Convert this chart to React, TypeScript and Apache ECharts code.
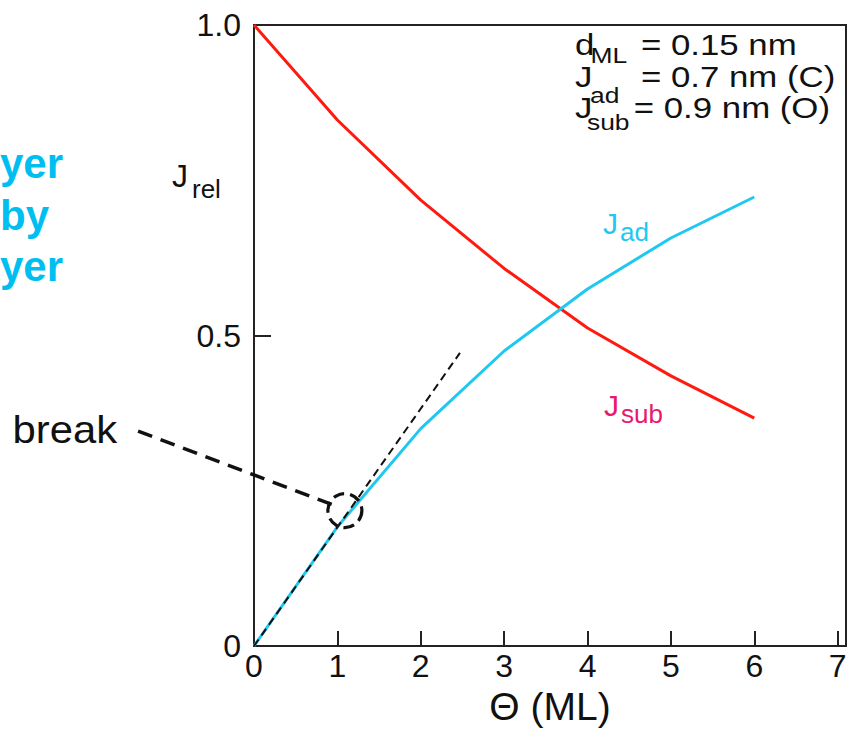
import React, { useEffect, useRef } from "react";
import * as echarts from "echarts";

// Coverage in monolayers
const theta = [0, 1, 2, 3, 4, 5, 6];
// Relative intensities
const jSub = [1.0, 0.847, 0.718, 0.608, 0.512, 0.435, 0.367];
const jAd = [0.0, 0.192, 0.35, 0.475, 0.575, 0.657, 0.723];
// Initial-slope guide (dashed)
const slopeX = [0, 2.47];
const slopeY = [0, 0.472];
// "break" marker and leader line (data coordinates)
const breakPoint = [1.09, 0.218];
const leaderX = [-1.39, 0.972];
const leaderY = [0.346, 0.226];
const xTicks = [0, 1, 2, 3, 4, 5, 6, 7];
const yTicks = ["0", "0.5", "1.0"];

const FONT = "'Liberation Sans', Arial, Helvetica, sans-serif";
const CYAN = "#1ec8f0";
const RED = "#ff1a10";
const PINK = "#e8186a";

function txt(text: string, x: number, y: number, size: number, fill = "#111", extra: any = {}, el: any = {}) {
  return {
    type: "text",
    x,
    y,
    silent: true,
    ...el,
    style: {
      text,
      fontSize: size,
      fontFamily: FONT,
      fill,
      align: "left",
      verticalAlign: "middle",
      ...extra,
    },
  };
}

export default function App() {
  const ref = useRef<HTMLDivElement>(null);
  useEffect(() => {
    if (!ref.current) return;
    const chart = echarts.init(ref.current, undefined, { renderer: "svg" });
    const option: any = {
      animation: false,
      backgroundColor: "#fff",
      grid: {
        left: 254,
        top: 25,
        width: 592,
        height: 622,
        show: true,
        borderColor: "#222",
        borderWidth: 2,
        containLabel: false,
      },
      xAxis: {
        type: "value",
        min: 0,
        max: 7.1,
        interval: 1,
        name: "Θ (ML)",
        nameLocation: "middle",
        nameGap: 41,
        nameTextStyle: { fontSize: 39, fontFamily: FONT, color: "#111" },
        axisLine: { show: true, onZero: false, lineStyle: { color: "#222", width: 2 } },
        axisTick: { show: true, inside: true, length: 15, lineStyle: { color: "#222", width: 2 } },
        axisLabel: {
          fontSize: 32,
          fontFamily: FONT,
          color: "#111",
          margin: 4,
          formatter: (v: number) => (xTicks.indexOf(v) >= 0 ? String(v) : ""),
        },
        splitLine: { show: false },
      },
      yAxis: {
        type: "value",
        min: 0,
        max: 1,
        interval: 0.5,
        axisLine: { show: true, onZero: false, lineStyle: { color: "#222", width: 2 } },
        axisTick: { show: true, inside: true, length: 17, lineStyle: { color: "#222", width: 2 } },
        axisLabel: {
          fontSize: 32,
          fontFamily: FONT,
          color: "#111",
          margin: 13,
          formatter: (v: number) => yTicks[Math.round(v * 2)] ?? "",
        },
        splitLine: { show: false },
      },
      series: [
        {
          type: "line",
          data: theta.map((t, i) => [t, jSub[i]]),
          symbol: "none",
          lineStyle: { color: RED, width: 3 },
          z: 3,
        },
        {
          type: "line",
          data: theta.map((t, i) => [t, jAd[i]]),
          symbol: "none",
          lineStyle: { color: CYAN, width: 3 },
          z: 3,
        },
        {
          type: "line",
          data: slopeX.map((x, i) => [x, slopeY[i]]),
          symbol: "none",
          lineStyle: { color: "#111", width: 2, type: [8, 5] },
          z: 4,
        },
        {
          type: "scatter",
          data: [breakPoint],
          symbol: "circle",
          symbolSize: 34,
          itemStyle: {
            color: "rgba(0,0,0,0)",
            borderColor: "#111",
            borderWidth: 3.2,
            borderType: [11, 6],
            opacity: 1,
          },
          emphasis: { disabled: true },
          z: 5,
        },
      ],
    };
    chart.setOption(option);

    const p0 = chart.convertToPixel({ xAxisIndex: 0, yAxisIndex: 0 }, [leaderX[0], leaderY[0]]) as number[];
    const p1 = chart.convertToPixel({ xAxisIndex: 0, yAxisIndex: 0 }, [leaderX[1], leaderY[1]]) as number[];

    const AX = 575; // left of the parameter box text
    const SX = 1.2; // horizontal stretch of the parameter box text

    chart.setOption({
      graphic: [
        {
          type: "line",
          silent: true,
          z: 10,
          shape: { x1: p0[0], y1: p0[1], x2: p1[0], y2: p1[1] },
          style: { stroke: "#111", lineWidth: 3.5, lineDash: [15, 9] },
        },
        // cut-off caption on the left
        txt("yer", 63, 163, 42, "#00bff0", { align: "right", fontWeight: "bold" }),
        txt("by", 49, 215, 42, "#00bff0", { align: "right", fontWeight: "bold" }),
        txt("yer", 63, 266, 42, "#00bff0", { align: "right", fontWeight: "bold" }),
        // y axis name
        txt("J", 172, 176, 32),
        txt("rel", 192, 189, 26),
        // break label
        txt("break", 14, 430, 38, "#111", {}, { scaleX: 1.1, originX: 14, originY: 430 }),
        // parameters box
        {
          type: "group",
          x: AX,
          y: 0,
          scaleX: SX,
          children: [
            txt("d", 0, 45, 29),
            txt("ML", 13, 55.5, 22),
            txt("= 0.15 nm", 55, 45, 29),
            txt("J", 0, 77, 29),
            txt("ad", 12.5, 95, 22),
            txt("= 0.7 nm (C)", 55, 77, 29),
            txt("J", 0, 108, 29),
            txt("sub", 10, 122.5, 22),
            txt("= 0.9 nm (O)", 49, 108, 29),
          ],
        },
        // curve labels
        txt("J", 603, 223, 30, CYAN),
        txt("ad", 620, 231.5, 26, CYAN),
        txt("J", 604, 405, 30, PINK),
        txt("sub", 621, 413.5, 26, PINK),
      ],
    });
    return () => chart.dispose();
  }, []);
  return (
    <div
      ref={ref}
      style={{ position: "fixed", left: 0, top: 0, width: 850, height: 731, background: "#fff" }}
    />
  );
}
